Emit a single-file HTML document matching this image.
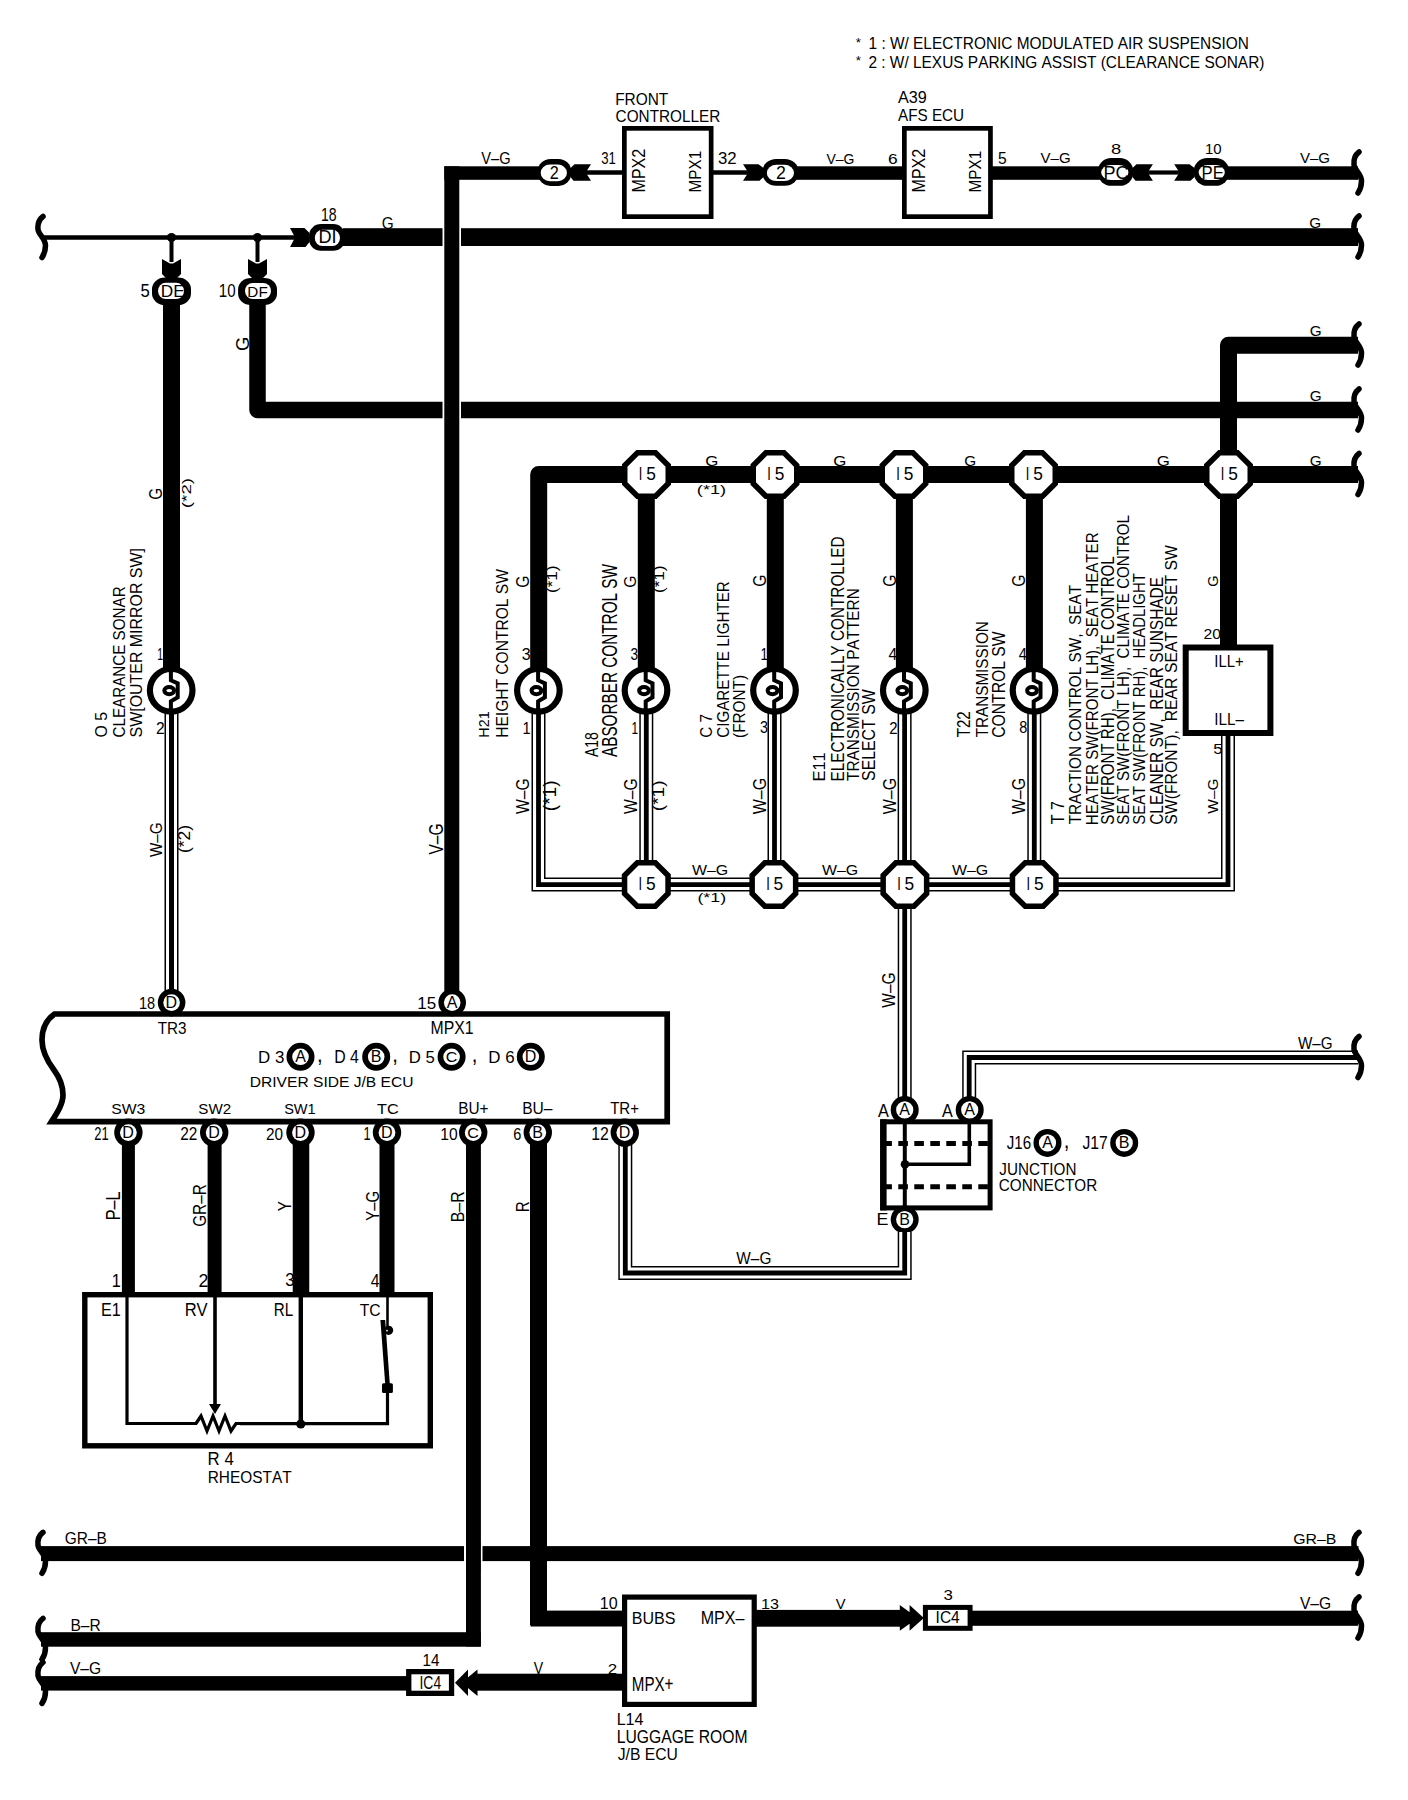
<!DOCTYPE html>
<html><head><meta charset="utf-8"><style>
html,body{margin:0;padding:0;background:#fff;}
svg{display:block;}
text{font-family:"Liberation Sans",sans-serif;fill:#000;font-kerning:none;white-space:pre;}
</style></head><body>
<svg width="1408" height="1800" viewBox="0 0 1408 1800">
<rect width="1408" height="1800" fill="#fff"/>
<text transform="translate(855.68,46.53) scale(1.1226,1)" font-size="11.96">*</text>
<text transform="translate(868.52,49.4) scale(0.9573,1)" font-size="16.13">1 : W/ ELECTRONIC MODULATED AIR SUSPENSION</text>
<text transform="translate(855.68,64.63) scale(1.1226,1)" font-size="11.96">*</text>
<text transform="translate(868.42,67.9) scale(0.9234,1)" font-size="16.72">2 : W/ LEXUS PARKING ASSIST (CLEARANCE SONAR)</text>
<rect x="444.3" y="166.3" width="100" height="13.5" fill="#000"/>
<text transform="translate(481.34,164.24) scale(0.9002,1)" font-size="16.24">V–G</text>
<rect x="537.8" y="158.9" width="33.4" height="27" rx="12.69" ry="12.15" fill="#000"/>
<rect x="540.7" y="164.6" width="26.2" height="16.6" rx="9.17" ry="8.3" fill="#fff"/>
<text transform="translate(549.78,179.1) scale(0.8861,1)" font-size="18.33">2</text>
<path d="M570.5,168 L574.5,164.2 L591,164.2 L587,170.4 L587,174.6 L591,180.8 L573.5,180.8 L570.5,177Z" fill="#000"/>
<path d="M586.5,172.5 L624,172.5" stroke="#000" stroke-width="4.6" fill="none" stroke-linejoin="miter" stroke-linecap="butt"/>
<text transform="translate(601.2,163.64) scale(0.7900,1)" font-size="16.67">31</text>
<rect x="624.35" y="128.35" width="86.8" height="88.3" fill="#fff" stroke="#000" stroke-width="4.7"/>
<text transform="translate(615.13,105.44) scale(0.9433,1)" font-size="16.38">FRONT</text>
<text transform="translate(615.62,122.03) scale(0.9046,1)" font-size="16.95">CONTROLLER</text>
<text transform="translate(645,192.52) rotate(-90) scale(0.8780,1)" font-size="18.33">MPX2</text>
<text transform="translate(701.3,192.45) rotate(-90) scale(0.9060,1)" font-size="16.86">MPX1</text>
<text transform="translate(717.96,164.24) scale(1.0342,1)" font-size="16.24">32</text>
<path d="M712,172.5 L747.5,172.5" stroke="#000" stroke-width="4.6" fill="none" stroke-linejoin="miter" stroke-linecap="butt"/>
<path d="M763.5,168 L758.5,164.2 L743,164.2 L747,170.4 L747,174.6 L743,180.8 L759.5,180.8 L763.5,177Z" fill="#000"/>
<rect x="790" y="166.3" width="113" height="13.5" fill="#000"/>
<rect x="762.6" y="159" width="35.8" height="26.8" rx="13.6" ry="12.06" fill="#000"/>
<rect x="766.8" y="164.8" width="27.2" height="16.2" rx="9.52" ry="8.1" fill="#fff"/>
<text transform="translate(776.01,178.9) scale(0.9699,1)" font-size="18.33">2</text>
<text transform="translate(826.44,163.85) scale(0.9009,1)" font-size="15.54">V–G</text>
<text transform="translate(888.12,163.85) scale(1.1159,1)" font-size="15.54">6</text>
<rect x="904.35" y="128.35" width="86.1" height="88.3" fill="#fff" stroke="#000" stroke-width="4.7"/>
<text transform="translate(897.97,102.84) scale(0.9965,1)" font-size="16.24">A39</text>
<text transform="translate(897.97,120.84) scale(0.9324,1)" font-size="16.38">AFS ECU</text>
<text transform="translate(925,192.52) rotate(-90) scale(0.8780,1)" font-size="18.33">MPX2</text>
<text transform="translate(981.3,192.45) rotate(-90) scale(0.9060,1)" font-size="16.86">MPX1</text>
<text transform="translate(997.98,163.85) scale(0.9900,1)" font-size="15.76">5</text>
<rect x="992" y="166.3" width="110" height="13.5" fill="#000"/>
<text transform="translate(1040.53,163.25) scale(0.9950,1)" font-size="15.11">V–G</text>
<rect x="1098" y="158.1" width="35.1" height="27.7" rx="13.34" ry="12.47" fill="#000"/>
<rect x="1101.2" y="165" width="27.2" height="15" rx="9.52" ry="7.5" fill="#fff"/>
<text transform="translate(1103.42,178.72) scale(0.9981,1)" font-size="18.08">PC</text>
<text transform="translate(1111,154.25) scale(1.2127,1)" font-size="15.11">8</text>
<path d="M1132.5,168 L1136.5,164.2 L1152.9,164.2 L1148.9,170.4 L1148.9,174.6 L1152.9,180.8 L1135.5,180.8 L1132.5,177Z" fill="#000"/>
<path d="M1148.5,172.5 L1178.6,172.5" stroke="#000" stroke-width="4.2" fill="none" stroke-linejoin="miter" stroke-linecap="butt"/>
<path d="M1194.5,168 L1189.5,164.2 L1174.2,164.2 L1178.2,170.4 L1178.2,174.6 L1174.2,180.8 L1190.5,180.8 L1194.5,177Z" fill="#000"/>
<rect x="1193.9" y="158.1" width="35.1" height="27.7" rx="13.34" ry="12.47" fill="#000"/>
<rect x="1198.7" y="165" width="26.1" height="15" rx="9.13" ry="7.5" fill="#fff"/>
<text transform="translate(1201.52,178.9) scale(0.9025,1)" font-size="18.6">PE</text>
<text transform="translate(1204.96,154.25) scale(0.9888,1)" font-size="15.11">10</text>
<rect x="1226" y="166.3" width="132" height="13.5" fill="#000"/>
<text transform="translate(1299.93,163.25) scale(0.9985,1)" font-size="15.11">V–G</text>
<path d="M1359,152 C1355,155 1353.5,160 1354,165 C1354.5,170 1361.5,174 1361.5,181 C1361.5,186 1360,190 1358,193" stroke="#000" stroke-width="5.5" fill="none" stroke-linecap="round"/>
<path d="M44,237.5 L294.5,237.5" stroke="#000" stroke-width="4.6" fill="none" stroke-linejoin="miter" stroke-linecap="butt"/>
<path d="M43,216.5 C39,219.5 37.5,224.5 38,229.5 C38.5,234.5 45.5,238.5 45.5,245.5 C45.5,250.5 44,254.5 42,257.5" stroke="#000" stroke-width="5.5" fill="none" stroke-linecap="round"/>
<circle cx="171.5" cy="237.5" r="4.5" fill="#000"/>
<path d="M171.5,237.5 L171.5,262" stroke="#000" stroke-width="4" fill="none" stroke-linejoin="miter" stroke-linecap="butt"/>
<path d="M167,279 L162,274 L162,259 L170,263.5 L173,263.5 L181,259 L181,274 L176,279Z" fill="#000"/>
<circle cx="257.5" cy="237.5" r="4.5" fill="#000"/>
<path d="M257.5,237.5 L257.5,262" stroke="#000" stroke-width="4" fill="none" stroke-linejoin="miter" stroke-linecap="butt"/>
<path d="M253,279 L248,274 L248,259 L256,263.5 L259,263.5 L267,259 L267,274 L262,279Z" fill="#000"/>
<path d="M171.5,300 L171.5,668" stroke="#000" stroke-width="17" fill="none" stroke-linejoin="miter" stroke-linecap="butt"/>
<path d="M257.5,300 L257.5,410 L442.5,410" stroke="#000" stroke-width="16.5" fill="none" stroke-linejoin="round" stroke-linecap="butt"/>
<path d="M461,410 L1358,410" stroke="#000" stroke-width="16.5" fill="none" stroke-linejoin="miter" stroke-linecap="butt"/>
<rect x="152" y="277.6" width="39" height="27.4" rx="12.87" ry="11.51" fill="#000"/>
<rect x="158" y="282.8" width="26" height="16.2" rx="7.8" ry="8.1" fill="#fff"/>
<text transform="translate(160.69,296.6) scale(1.0499,1)" font-size="16.42">DE</text>
<text transform="translate(140.53,296.83) scale(0.9301,1)" font-size="17.91">5</text>
<rect x="238.1" y="278" width="38.9" height="27" rx="12.84" ry="11.34" fill="#000"/>
<rect x="245" y="283" width="26" height="16" rx="7.8" ry="8" fill="#fff"/>
<text transform="translate(247.35,296.7) scale(1.0305,1)" font-size="14.83">DF</text>
<text transform="translate(218.75,296.52) scale(0.8377,1)" font-size="18.08">10</text>
<path d="M309.5,233 L304.5,228.1 L290,228.1 L294,235.4 L294,239.6 L290,246.9 L305.5,246.9 L309.5,242Z" fill="#000"/>
<rect x="309.1" y="224.1" width="35.9" height="26.7" rx="11.85" ry="11.21" fill="#000"/>
<rect x="314.8" y="229.8" width="25.2" height="16.2" rx="7.56" ry="8.1" fill="#fff"/>
<text transform="translate(318.51,243) scale(1.0415,1)" font-size="17.44">DI</text>
<text transform="translate(320.93,220.82) scale(0.7565,1)" font-size="18.64">18</text>
<rect x="343" y="228.2" width="99.5" height="17.8" fill="#000"/>
<rect x="461" y="228.2" width="897" height="17.8" fill="#000"/>
<text transform="translate(381.73,228.84) scale(0.9431,1)" font-size="16.24">G</text>
<text transform="translate(1309.23,228.46) scale(1.0738,1)" font-size="14.27">G</text>
<path d="M1359,216 C1355,219 1353.5,224 1354,229 C1354.5,234 1361.5,238 1361.5,245 C1361.5,250 1360,254 1358,257" stroke="#000" stroke-width="5.5" fill="none" stroke-linecap="round"/>
<rect x="444.3" y="166.3" width="15" height="830" fill="#000"/>
<text transform="translate(248.82,350.92) rotate(-90) scale(1.0011,1)" font-size="18.36">G</text>
<text transform="translate(162.22,499.77) rotate(-90) scale(0.8473,1)" font-size="18.08">G</text>
<text transform="translate(190.8,508.17) rotate(-90) scale(1.3920,1)" font-size="13.52">(*2)</text>
<path d="M1358,345.2 L1228.5,345.2 L1228.5,648" stroke="#000" stroke-width="17" fill="none" stroke-linejoin="round" stroke-linecap="butt"/>
<path d="M1358,474.5 L538.7,474.5 L538.7,668" stroke="#000" stroke-width="17" fill="none" stroke-linejoin="round" stroke-linecap="butt"/>
<path d="M646.3,474.5 L646.3,668" stroke="#000" stroke-width="17" fill="none" stroke-linejoin="miter" stroke-linecap="butt"/>
<path d="M775.3,474.5 L775.3,668" stroke="#000" stroke-width="17" fill="none" stroke-linejoin="miter" stroke-linecap="butt"/>
<path d="M904.4,474.5 L904.4,668" stroke="#000" stroke-width="17" fill="none" stroke-linejoin="miter" stroke-linecap="butt"/>
<path d="M1034.4,474.5 L1034.4,668" stroke="#000" stroke-width="17" fill="none" stroke-linejoin="miter" stroke-linecap="butt"/>
<text transform="translate(1309.83,336.46) scale(1.0845,1)" font-size="14.12">G</text>
<text transform="translate(1309.83,400.86) scale(1.0845,1)" font-size="14.12">G</text>
<text transform="translate(1309.83,465.86) scale(1.0845,1)" font-size="14.12">G</text>
<path d="M1359,324 C1355,327 1353.5,332 1354,337 C1354.5,342 1361.5,346 1361.5,353 C1361.5,358 1360,362 1358,365" stroke="#000" stroke-width="5.5" fill="none" stroke-linecap="round"/>
<path d="M1359,389 C1355,392 1353.5,397 1354,402 C1354.5,407 1361.5,411 1361.5,418 C1361.5,423 1360,427 1358,430" stroke="#000" stroke-width="5.5" fill="none" stroke-linecap="round"/>
<path d="M1359,453.5 C1355,456.5 1353.5,461.5 1354,466.5 C1354.5,471.5 1361.5,475.5 1361.5,482.5 C1361.5,487.5 1360,491.5 1358,494.5" stroke="#000" stroke-width="5.5" fill="none" stroke-linecap="round"/>
<path d="M637.49,452.75 L655.51,452.75 L668.25,465.49 L668.25,483.51 L655.51,496.25 L637.49,496.25 L624.75,483.51 L624.75,465.49Z" fill="#fff" stroke="#000" stroke-width="5.5" stroke-linejoin="miter"/>
<text transform="translate(638.81,480.1) scale(0.7256,1)" font-size="17.73">I</text>
<text transform="translate(646.21,480.13) scale(0.9732,1)" font-size="17.77">5</text>
<path d="M765.99,452.75 L784.01,452.75 L796.75,465.49 L796.75,483.51 L784.01,496.25 L765.99,496.25 L753.25,483.51 L753.25,465.49Z" fill="#fff" stroke="#000" stroke-width="5.5" stroke-linejoin="miter"/>
<text transform="translate(767.31,480.1) scale(0.7256,1)" font-size="17.73">I</text>
<text transform="translate(774.71,480.13) scale(0.9732,1)" font-size="17.77">5</text>
<path d="M894.99,452.75 L913.01,452.75 L925.75,465.49 L925.75,483.51 L913.01,496.25 L894.99,496.25 L882.25,483.51 L882.25,465.49Z" fill="#fff" stroke="#000" stroke-width="5.5" stroke-linejoin="miter"/>
<text transform="translate(896.31,480.1) scale(0.7256,1)" font-size="17.73">I</text>
<text transform="translate(903.71,480.13) scale(0.9732,1)" font-size="17.77">5</text>
<path d="M1024.49,452.75 L1042.51,452.75 L1055.25,465.49 L1055.25,483.51 L1042.51,496.25 L1024.49,496.25 L1011.75,483.51 L1011.75,465.49Z" fill="#fff" stroke="#000" stroke-width="5.5" stroke-linejoin="miter"/>
<text transform="translate(1025.81,480.1) scale(0.7256,1)" font-size="17.73">I</text>
<text transform="translate(1033.21,480.13) scale(0.9732,1)" font-size="17.77">5</text>
<path d="M1219.49,452.75 L1237.51,452.75 L1250.25,465.49 L1250.25,483.51 L1237.51,496.25 L1219.49,496.25 L1206.75,483.51 L1206.75,465.49Z" fill="#fff" stroke="#000" stroke-width="5.5" stroke-linejoin="miter"/>
<text transform="translate(1220.81,480.1) scale(0.7256,1)" font-size="17.73">I</text>
<text transform="translate(1228.21,480.13) scale(0.9732,1)" font-size="17.77">5</text>
<text transform="translate(705.15,465.86) scale(1.1930,1)" font-size="14.12">G</text>
<text transform="translate(833.15,465.86) scale(1.1930,1)" font-size="14.12">G</text>
<text transform="translate(964.23,465.86) scale(1.0845,1)" font-size="14.12">G</text>
<text transform="translate(1156.85,465.86) scale(1.1930,1)" font-size="14.12">G</text>
<text transform="translate(696.87,493.72) scale(1.3530,1)" font-size="13.42">(*1)</text>
<path d="M538.5,712 L538.5,884.6 L625,884.6" stroke="#000" stroke-width="14" fill="none" stroke-linejoin="miter" stroke-linecap="butt"/>
<path d="M538.5,712 L538.5,884.6 L625,884.6" stroke="#fff" stroke-width="11" fill="none" stroke-linejoin="miter" stroke-linecap="butt"/>
<path d="M538.5,712 L538.5,884.6 L625,884.6" stroke="#000" stroke-width="4.8" fill="none" stroke-linejoin="miter" stroke-linecap="butt"/>
<path d="M646.3,712 L646.3,862" stroke="#000" stroke-width="14" fill="none" stroke-linejoin="miter" stroke-linecap="butt"/>
<path d="M646.3,712 L646.3,862" stroke="#fff" stroke-width="11" fill="none" stroke-linejoin="miter" stroke-linecap="butt"/>
<path d="M646.3,712 L646.3,862" stroke="#000" stroke-width="4.8" fill="none" stroke-linejoin="miter" stroke-linecap="butt"/>
<path d="M774.5,712 L774.5,862" stroke="#000" stroke-width="14" fill="none" stroke-linejoin="miter" stroke-linecap="butt"/>
<path d="M774.5,712 L774.5,862" stroke="#fff" stroke-width="11" fill="none" stroke-linejoin="miter" stroke-linecap="butt"/>
<path d="M774.5,712 L774.5,862" stroke="#000" stroke-width="4.8" fill="none" stroke-linejoin="miter" stroke-linecap="butt"/>
<path d="M904.6,712 L904.6,862" stroke="#000" stroke-width="14" fill="none" stroke-linejoin="miter" stroke-linecap="butt"/>
<path d="M904.6,712 L904.6,862" stroke="#fff" stroke-width="11" fill="none" stroke-linejoin="miter" stroke-linecap="butt"/>
<path d="M904.6,712 L904.6,862" stroke="#000" stroke-width="4.8" fill="none" stroke-linejoin="miter" stroke-linecap="butt"/>
<path d="M1034.3,712 L1034.3,862" stroke="#000" stroke-width="14" fill="none" stroke-linejoin="miter" stroke-linecap="butt"/>
<path d="M1034.3,712 L1034.3,862" stroke="#fff" stroke-width="11" fill="none" stroke-linejoin="miter" stroke-linecap="butt"/>
<path d="M1034.3,712 L1034.3,862" stroke="#000" stroke-width="4.8" fill="none" stroke-linejoin="miter" stroke-linecap="butt"/>
<path d="M1228,734 L1228,884.6 L1055,884.6" stroke="#000" stroke-width="14" fill="none" stroke-linejoin="miter" stroke-linecap="butt"/>
<path d="M1228,734 L1228,884.6 L1055,884.6" stroke="#fff" stroke-width="11" fill="none" stroke-linejoin="miter" stroke-linecap="butt"/>
<path d="M1228,734 L1228,884.6 L1055,884.6" stroke="#000" stroke-width="4.8" fill="none" stroke-linejoin="miter" stroke-linecap="butt"/>
<path d="M660,884.6 L1020,884.6" stroke="#000" stroke-width="14" fill="none" stroke-linejoin="miter" stroke-linecap="butt"/>
<path d="M660,884.6 L1020,884.6" stroke="#fff" stroke-width="11" fill="none" stroke-linejoin="miter" stroke-linecap="butt"/>
<path d="M660,884.6 L1020,884.6" stroke="#000" stroke-width="4.8" fill="none" stroke-linejoin="miter" stroke-linecap="butt"/>
<path d="M904.7,905 L904.7,1098" stroke="#000" stroke-width="14" fill="none" stroke-linejoin="miter" stroke-linecap="butt"/>
<path d="M904.7,905 L904.7,1098" stroke="#fff" stroke-width="11" fill="none" stroke-linejoin="miter" stroke-linecap="butt"/>
<path d="M904.7,905 L904.7,1098" stroke="#000" stroke-width="4.8" fill="none" stroke-linejoin="miter" stroke-linecap="butt"/>
<path d="M637.29,862.75 L655.31,862.75 L668.05,875.49 L668.05,893.51 L655.31,906.25 L637.29,906.25 L624.55,893.51 L624.55,875.49Z" fill="#fff" stroke="#000" stroke-width="5.5" stroke-linejoin="miter"/>
<text transform="translate(638.61,890.1) scale(0.7256,1)" font-size="17.73">I</text>
<text transform="translate(646.01,890.13) scale(0.9732,1)" font-size="17.77">5</text>
<path d="M764.89,862.75 L782.91,862.75 L795.65,875.49 L795.65,893.51 L782.91,906.25 L764.89,906.25 L752.15,893.51 L752.15,875.49Z" fill="#fff" stroke="#000" stroke-width="5.5" stroke-linejoin="miter"/>
<text transform="translate(766.21,890.1) scale(0.7256,1)" font-size="17.73">I</text>
<text transform="translate(773.61,890.13) scale(0.9732,1)" font-size="17.77">5</text>
<path d="M895.89,862.75 L913.91,862.75 L926.65,875.49 L926.65,893.51 L913.91,906.25 L895.89,906.25 L883.15,893.51 L883.15,875.49Z" fill="#fff" stroke="#000" stroke-width="5.5" stroke-linejoin="miter"/>
<text transform="translate(897.21,890.1) scale(0.7256,1)" font-size="17.73">I</text>
<text transform="translate(904.61,890.13) scale(0.9732,1)" font-size="17.77">5</text>
<path d="M1025.19,862.75 L1043.21,862.75 L1055.95,875.49 L1055.95,893.51 L1043.21,906.25 L1025.19,906.25 L1012.45,893.51 L1012.45,875.49Z" fill="#fff" stroke="#000" stroke-width="5.5" stroke-linejoin="miter"/>
<text transform="translate(1026.51,890.1) scale(0.7256,1)" font-size="17.73">I</text>
<text transform="translate(1033.91,890.13) scale(0.9732,1)" font-size="17.77">5</text>
<text transform="translate(691.93,875.45) scale(1.0632,1)" font-size="14.97">W–G</text>
<text transform="translate(697.4,901.72) scale(1.3280,1)" font-size="13.42">(*1)</text>
<text transform="translate(821.93,875.45) scale(1.0632,1)" font-size="14.97">W–G</text>
<text transform="translate(951.93,875.45) scale(1.0632,1)" font-size="14.97">W–G</text>
<text transform="translate(895.02,1007.67) rotate(-90) scale(0.8578,1)" font-size="18.08">W–G</text>
<path d="M171.5,712 L171.5,996" stroke="#000" stroke-width="14" fill="none" stroke-linejoin="miter" stroke-linecap="butt"/>
<path d="M171.5,712 L171.5,996" stroke="#fff" stroke-width="11" fill="none" stroke-linejoin="miter" stroke-linecap="butt"/>
<path d="M171.5,712 L171.5,996" stroke="#000" stroke-width="5" fill="none" stroke-linejoin="miter" stroke-linecap="butt"/>
<circle cx="171.2" cy="690.3" r="21.3" fill="#fff" stroke="#000" stroke-width="6.2"/>
<path d="M170.9,671.3 L170.9,680.3 L177.7,683.3 L177.7,697.3 L170.9,701.3 L170.9,709.3" stroke="#000" stroke-width="4" fill="none" stroke-linejoin="miter"/>
<ellipse cx="169.2" cy="690.6" rx="4.9" ry="3.6" fill="#fff" stroke="#000" stroke-width="4"/>
<circle cx="538.4" cy="690.3" r="21.3" fill="#fff" stroke="#000" stroke-width="6.2"/>
<path d="M538.1,671.3 L538.1,680.3 L544.9,683.3 L544.9,697.3 L538.1,701.3 L538.1,709.3" stroke="#000" stroke-width="4" fill="none" stroke-linejoin="miter"/>
<ellipse cx="536.4" cy="690.6" rx="4.9" ry="3.6" fill="#fff" stroke="#000" stroke-width="4"/>
<circle cx="646" cy="690.3" r="21.3" fill="#fff" stroke="#000" stroke-width="6.2"/>
<path d="M645.7,671.3 L645.7,680.3 L652.5,683.3 L652.5,697.3 L645.7,701.3 L645.7,709.3" stroke="#000" stroke-width="4" fill="none" stroke-linejoin="miter"/>
<ellipse cx="644" cy="690.6" rx="4.9" ry="3.6" fill="#fff" stroke="#000" stroke-width="4"/>
<circle cx="774.5" cy="690.3" r="21.3" fill="#fff" stroke="#000" stroke-width="6.2"/>
<path d="M774.2,671.3 L774.2,680.3 L781,683.3 L781,697.3 L774.2,701.3 L774.2,709.3" stroke="#000" stroke-width="4" fill="none" stroke-linejoin="miter"/>
<ellipse cx="772.5" cy="690.6" rx="4.9" ry="3.6" fill="#fff" stroke="#000" stroke-width="4"/>
<circle cx="904.3" cy="690.3" r="21.3" fill="#fff" stroke="#000" stroke-width="6.2"/>
<path d="M904,671.3 L904,680.3 L910.8,683.3 L910.8,697.3 L904,701.3 L904,709.3" stroke="#000" stroke-width="4" fill="none" stroke-linejoin="miter"/>
<ellipse cx="902.3" cy="690.6" rx="4.9" ry="3.6" fill="#fff" stroke="#000" stroke-width="4"/>
<circle cx="1034" cy="690.3" r="21.3" fill="#fff" stroke="#000" stroke-width="6.2"/>
<path d="M1033.7,671.3 L1033.7,680.3 L1040.5,683.3 L1040.5,697.3 L1033.7,701.3 L1033.7,709.3" stroke="#000" stroke-width="4" fill="none" stroke-linejoin="miter"/>
<ellipse cx="1032" cy="690.6" rx="4.9" ry="3.6" fill="#fff" stroke="#000" stroke-width="4"/>
<rect x="1185.7" y="647.5" width="84.7" height="85.5" fill="#fff" stroke="#000" stroke-width="6"/>
<text transform="translate(1214.33,667.2) scale(0.8991,1)" font-size="16.57">ILL+</text>
<text transform="translate(1214.29,725) scale(0.9134,1)" font-size="16.72">ILL–</text>
<text transform="translate(1203.61,638.86) scale(1.0613,1)" font-size="14.83">20</text>
<text transform="translate(1218.45,586.73) rotate(-90) scale(0.9720,1)" font-size="14.97">G</text>
<text transform="translate(1213.32,753.86) scale(1.1431,1)" font-size="14.76">5</text>
<text transform="translate(1218.45,813.67) rotate(-90) scale(1.0329,1)" font-size="14.97">W–G</text>
<text transform="translate(106.83,737.45) rotate(-90) scale(0.9340,1)" font-size="16.95">O 5</text>
<text transform="translate(125.34,737.47) rotate(-90) scale(0.9357,1)" font-size="16.24">CLEARANCE SONAR</text>
<text transform="translate(141.83,737.42) rotate(-90) scale(0.9528,1)" font-size="16.74">SW[OUTER MIRROR SW]</text>
<text transform="translate(157.2,659.5) scale(0.6649,1)" font-size="15.7">1</text>
<text transform="translate(155.92,734) scale(0.9893,1)" font-size="15.75">2</text>
<text transform="translate(162.13,857.07) rotate(-90) scale(0.8796,1)" font-size="17.37">W–G</text>
<text transform="translate(190.09,853.08) rotate(-90) scale(1.0930,1)" font-size="15.99">(*2)</text>
<text transform="translate(443.01,854.57) rotate(-90) scale(0.8040,1)" font-size="19.35">V–G</text>
<text transform="translate(489,737.68) rotate(-90) scale(1.0042,1)" font-size="14.32">H21</text>
<text transform="translate(508.24,737.78) rotate(-90) scale(0.9512,1)" font-size="16.38">HEIGHT CONTROL SW</text>
<text transform="translate(528.82,587.79) rotate(-90) scale(0.8593,1)" font-size="18.36">G</text>
<text transform="translate(556.66,593.06) rotate(-90) scale(1.2479,1)" font-size="13.74">(*1)</text>
<text transform="translate(521.79,659.64) scale(0.9869,1)" font-size="16.24">3</text>
<text transform="translate(522.59,734) scale(0.8666,1)" font-size="16.86">1</text>
<text transform="translate(528.82,814.07) rotate(-90) scale(0.8521,1)" font-size="18.36">W–G</text>
<text transform="translate(556.38,811.18) rotate(-90) scale(1.0914,1)" font-size="17.5">(*1)</text>
<text transform="translate(597.82,757.03) rotate(-90) scale(0.7633,1)" font-size="18.36">A18</text>
<text transform="translate(616.79,757.03) rotate(-90) scale(0.7084,1)" font-size="21.61">ABSORBER CONTROL SW</text>
<text transform="translate(635.84,587.79) rotate(-90) scale(0.9885,1)" font-size="15.96">G</text>
<text transform="translate(664.11,593.06) rotate(-90) scale(1.2287,1)" font-size="13.95">(*1)</text>
<text transform="translate(630.48,659.64) scale(0.8440,1)" font-size="16.24">3</text>
<text transform="translate(631.5,734) scale(0.7016,1)" font-size="16.86">1</text>
<text transform="translate(636.82,814.07) rotate(-90) scale(0.8521,1)" font-size="18.36">W–G</text>
<text transform="translate(663.76,811.18) rotate(-90) scale(1.1477,1)" font-size="16.64">(*1)</text>
<text transform="translate(711.83,737.77) rotate(-90) scale(0.8854,1)" font-size="17.23">C 7</text>
<text transform="translate(728.93,737.77) rotate(-90) scale(0.8798,1)" font-size="17.23">CIGARETTE LIGHTER</text>
<text transform="translate(745,737.95) rotate(-90) scale(0.8862,1)" font-size="17.3">(FRONT)</text>
<text transform="translate(765.83,586.79) rotate(-90) scale(0.9008,1)" font-size="17.51">G</text>
<text transform="translate(760.59,659.8) scale(0.7978,1)" font-size="16.57">1</text>
<text transform="translate(759.95,733.44) scale(0.8986,1)" font-size="15.96">3</text>
<text transform="translate(765.83,814.37) rotate(-90) scale(0.9167,1)" font-size="17.51">W–G</text>
<text transform="translate(825.2,781.55) rotate(-90) scale(0.9958,1)" font-size="16.57">E11</text>
<text transform="translate(844.2,781.46) rotate(-90) scale(0.8784,1)" font-size="17.44">ELECTRONICALLY CONTROLLED</text>
<text transform="translate(859,780.95) rotate(-90) scale(0.8957,1)" font-size="17.15">TRANSMISSION PATTERN</text>
<text transform="translate(875.2,780.92) rotate(-90) scale(0.9095,1)" font-size="17.44">SELECT SW</text>
<text transform="translate(895.52,586.79) rotate(-90) scale(0.8796,1)" font-size="17.94">G</text>
<text transform="translate(888.54,659.8) scale(0.9461,1)" font-size="16.57">4</text>
<text transform="translate(889.25,733.6) scale(0.9223,1)" font-size="16.18">2</text>
<text transform="translate(895.52,814.37) rotate(-90) scale(0.8950,1)" font-size="17.94">W–G</text>
<text transform="translate(969.5,737.34) rotate(-90) scale(0.8462,1)" font-size="17.9">T22</text>
<text transform="translate(987.54,737.34) rotate(-90) scale(0.9572,1)" font-size="15.96">TRANSMISSION</text>
<text transform="translate(1004.63,737.8) rotate(-90) scale(0.8896,1)" font-size="17.66">CONTROL SW</text>
<text transform="translate(1025.03,586.79) rotate(-90) scale(0.8936,1)" font-size="17.66">G</text>
<text transform="translate(1018.66,659.8) scale(0.8863,1)" font-size="16.57">4</text>
<text transform="translate(1019.37,733.44) scale(0.9080,1)" font-size="15.96">8</text>
<text transform="translate(1025.03,814.37) rotate(-90) scale(0.9093,1)" font-size="17.66">W–G</text>
<text transform="translate(1063.6,824.36) rotate(-90) scale(0.8969,1)" font-size="17.88">T 7</text>
<text transform="translate(1081,824.34) rotate(-90) scale(0.9516,1)" font-size="16.13">TRACTION CONTROL SW,  SEAT</text>
<text transform="translate(1097.6,825.24) rotate(-90) scale(0.8960,1)" font-size="16.86">HEATER SW(FRONT LH),  SEAT HEATER</text>
<text transform="translate(1113.7,824.69) rotate(-90) scale(0.8182,1)" font-size="18.46">SW(FRONT RH),  CLIMATE CONTROL</text>
<text transform="translate(1128.8,824.69) rotate(-90) scale(0.9212,1)" font-size="16.42">SEAT SW(FRONT LH),  CLIMATE CONTROL</text>
<text transform="translate(1145.2,824.68) rotate(-90) scale(0.8984,1)" font-size="16.57">SEAT SW(FRONT RH),  HEADLIGHT</text>
<text transform="translate(1162.8,824.78) rotate(-90) scale(0.8047,1)" font-size="19.19">CLEANER SW,  REAR SUNSHADE</text>
<text transform="translate(1177,824.72) rotate(-90) scale(0.9527,1)" font-size="16.57">SW(FRONT),  REAR SEAT RESET SW</text>
<path d="M969.2,1098 L969.2,1057.5 L1358,1057.5" stroke="#000" stroke-width="14" fill="none" stroke-linejoin="miter" stroke-linecap="butt"/>
<path d="M969.2,1098 L969.2,1057.5 L1358,1057.5" stroke="#fff" stroke-width="11" fill="none" stroke-linejoin="miter" stroke-linecap="butt"/>
<path d="M969.2,1098 L969.2,1057.5 L1358,1057.5" stroke="#000" stroke-width="4.8" fill="none" stroke-linejoin="miter" stroke-linecap="butt"/>
<text transform="translate(1297.93,1048.54) scale(0.9220,1)" font-size="16.53">W–G</text>
<path d="M1359,1036.5 C1355,1039.5 1353.5,1044.5 1354,1049.5 C1354.5,1054.5 1361.5,1058.5 1361.5,1065.5 C1361.5,1070.5 1360,1074.5 1358,1077.5" stroke="#000" stroke-width="5.5" fill="none" stroke-linecap="round"/>
<rect x="882.7" y="1121.8" width="107.4" height="86.1" fill="#fff" stroke="#000" stroke-width="5"/>
<rect x="880.2" y="1119.3" width="6.4" height="91.1" fill="#000"/>
<path d="M904.8,1120 L904.8,1208" stroke="#000" stroke-width="4" fill="none" stroke-linejoin="miter" stroke-linecap="butt"/>
<path d="M969.3,1120 L969.3,1164.2 L904.8,1164.2" stroke="#000" stroke-width="3.6" fill="none" stroke-linejoin="miter" stroke-linecap="butt"/>
<circle cx="905" cy="1164.2" r="4.3" fill="#000"/>
<line x1="882.3" y1="1143.5" x2="990" y2="1143.5" stroke="#000" stroke-width="5" stroke-dasharray="9.6 6.4"/>
<line x1="882.3" y1="1186.7" x2="990" y2="1186.7" stroke="#000" stroke-width="5" stroke-dasharray="9.6 6.4"/>
<circle cx="904.7" cy="1109.9" r="14" fill="#000"/>
<circle cx="904.7" cy="1109.9" r="8.6" fill="#fff"/>
<text transform="translate(899.36,1115.4) scale(1.0000,1)" font-size="16">A</text>
<circle cx="969.7" cy="1109.9" r="14" fill="#000"/>
<circle cx="969.7" cy="1109.9" r="8.6" fill="#fff"/>
<text transform="translate(964.36,1115.4) scale(1.0000,1)" font-size="16">A</text>
<circle cx="904.7" cy="1219.6" r="14" fill="#000"/>
<circle cx="904.7" cy="1219.6" r="8.6" fill="#fff"/>
<text transform="translate(899.13,1225.1) scale(1.0000,1)" font-size="16">B</text>
<text transform="translate(877.97,1117) scale(0.9037,1)" font-size="18.02">A</text>
<text transform="translate(941.97,1117) scale(0.8953,1)" font-size="18.02">A</text>
<text transform="translate(876.53,1225) scale(1.1194,1)" font-size="15.99">E</text>
<text transform="translate(1006.76,1149.12) scale(0.8371,1)" font-size="18.08">J16</text>
<circle cx="1047.5" cy="1142.9" r="14" fill="#000"/>
<circle cx="1047.5" cy="1142.9" r="8.6" fill="#fff"/>
<text transform="translate(1042.16,1148.4) scale(1.0000,1)" font-size="16">A</text>
<text transform="translate(1063.67,1148.28) scale(0.9572,1)" font-size="21.29">,</text>
<text transform="translate(1082.45,1149.12) scale(0.8566,1)" font-size="18.34">J17</text>
<circle cx="1124.2" cy="1142.9" r="14" fill="#000"/>
<circle cx="1124.2" cy="1142.9" r="8.6" fill="#fff"/>
<text transform="translate(1118.63,1148.4) scale(1.0000,1)" font-size="16">B</text>
<text transform="translate(999.36,1174.83) scale(0.8996,1)" font-size="16.95">JUNCTION</text>
<text transform="translate(998.82,1190.83) scale(0.9007,1)" font-size="16.95">CONNECTOR</text>
<path d="M670,1014 L54.5,1014 C46,1020 42,1030 42,1040 C42,1052 48,1062 54,1070 C60,1078 63,1086 63,1095 C63,1104 57,1113 51.5,1121.6 L667.2,1121.6 L667.2,1011.2" fill="#fff" stroke="#000" stroke-width="5.7" stroke-linejoin="miter"/>
<circle cx="171.6" cy="1002.6" r="13.8" fill="#000"/>
<circle cx="171.6" cy="1002.6" r="8.3" fill="#fff"/>
<text transform="translate(165.55,1008.1) scale(1.0000,1)" font-size="16">D</text>
<circle cx="452.2" cy="1002.6" r="13.8" fill="#000"/>
<circle cx="452.2" cy="1002.6" r="8.3" fill="#fff"/>
<text transform="translate(446.86,1008.1) scale(1.0000,1)" font-size="16">A</text>
<text transform="translate(138.9,1008.83) scale(0.8559,1)" font-size="16.95">18</text>
<text transform="translate(417.21,1008.83) scale(0.9885,1)" font-size="17.2">15</text>
<text transform="translate(157.66,1034.13) scale(0.8779,1)" font-size="17.37">TR3</text>
<text transform="translate(430.5,1034) scale(0.9068,1)" font-size="17.44">MPX1</text>
<text transform="translate(258.01,1062.83) scale(0.9983,1)" font-size="16.95">D 3</text>
<circle cx="300.5" cy="1056.8" r="14" fill="#000"/>
<circle cx="300.5" cy="1056.8" r="8.3" fill="#fff"/>
<text transform="translate(295.16,1062.3) scale(1.0000,1)" font-size="16">A</text>
<text transform="translate(316.97,1062.28) scale(0.9572,1)" font-size="21.29">,</text>
<text transform="translate(334.2,1063) scale(0.9087,1)" font-size="17.44">D 4</text>
<circle cx="376.2" cy="1056.8" r="14" fill="#000"/>
<circle cx="376.2" cy="1056.8" r="8.3" fill="#fff"/>
<text transform="translate(370.63,1062.3) scale(1.0000,1)" font-size="16">B</text>
<text transform="translate(392.17,1062.28) scale(0.9572,1)" font-size="21.29">,</text>
<text transform="translate(408.63,1062.83) scale(0.9744,1)" font-size="17.2">D 5</text>
<circle cx="451.6" cy="1056.8" r="14" fill="#000"/>
<circle cx="451.6" cy="1056.8" r="8.3" fill="#fff"/>
<text transform="translate(445.72,1062.15) scale(1.0291,1)" font-size="15.55">C</text>
<text transform="translate(471.87,1062.28) scale(0.9572,1)" font-size="21.29">,</text>
<text transform="translate(488.31,1062.83) scale(0.9983,1)" font-size="16.95">D 6</text>
<circle cx="530.8" cy="1056.8" r="14" fill="#000"/>
<circle cx="530.8" cy="1056.8" r="8.3" fill="#fff"/>
<text transform="translate(524.75,1062.3) scale(1.0000,1)" font-size="16">D</text>
<text transform="translate(249.72,1087.36) scale(1.0514,1)" font-size="14.84">DRIVER SIDE J/B ECU</text>
<text transform="translate(111.29,1113.85) scale(1.0130,1)" font-size="15.54">SW3</text>
<text transform="translate(198.31,1113.85) scale(0.9757,1)" font-size="15.54">SW2</text>
<text transform="translate(284.14,1113.85) scale(0.9378,1)" font-size="15.54">SW1</text>
<text transform="translate(377.04,1113.85) scale(1.0420,1)" font-size="15.54">TC</text>
<text transform="translate(458.24,1113.85) scale(0.9747,1)" font-size="15.76">BU+</text>
<text transform="translate(522.22,1113.85) scale(0.9875,1)" font-size="15.76">BU–</text>
<text transform="translate(610.16,1114) scale(0.9389,1)" font-size="15.99">TR+</text>
<path d="M128.4,1140 L128.4,1294" stroke="#000" stroke-width="13" fill="none" stroke-linejoin="miter" stroke-linecap="butt"/>
<path d="M214.6,1140 L214.6,1294" stroke="#000" stroke-width="14" fill="none" stroke-linejoin="miter" stroke-linecap="butt"/>
<path d="M301,1140 L301,1294" stroke="#000" stroke-width="16.5" fill="none" stroke-linejoin="miter" stroke-linecap="butt"/>
<path d="M387,1140 L387,1294" stroke="#000" stroke-width="15" fill="none" stroke-linejoin="miter" stroke-linecap="butt"/>
<rect x="466" y="1135" width="14.9" height="511.5" fill="#000"/>
<rect x="41" y="1632.2" width="439.9" height="14.5" fill="#000"/>
<rect x="530" y="1135" width="17" height="490" fill="#000"/>
<rect x="530.5" y="1610.6" width="92" height="15.9" fill="#000"/>
<path d="M625.3,1140 L625.3,1273 L904.7,1273 L904.7,1232" stroke="#000" stroke-width="14" fill="none" stroke-linejoin="miter" stroke-linecap="butt"/>
<path d="M625.3,1140 L625.3,1273 L904.7,1273 L904.7,1232" stroke="#fff" stroke-width="11" fill="none" stroke-linejoin="miter" stroke-linecap="butt"/>
<path d="M625.3,1140 L625.3,1273 L904.7,1273 L904.7,1232" stroke="#000" stroke-width="4.8" fill="none" stroke-linejoin="miter" stroke-linecap="butt"/>
<text transform="translate(736.33,1264.23) scale(0.8995,1)" font-size="17.09">W–G</text>
<circle cx="128.4" cy="1132.6" r="14.2" fill="#000"/>
<circle cx="128.4" cy="1132.6" r="8.4" fill="#fff"/>
<text transform="translate(122.35,1138.1) scale(1.0000,1)" font-size="16">D</text>
<circle cx="214.2" cy="1132.6" r="14.2" fill="#000"/>
<circle cx="214.2" cy="1132.6" r="8.4" fill="#fff"/>
<text transform="translate(208.15,1138.1) scale(1.0000,1)" font-size="16">D</text>
<circle cx="300.5" cy="1132.6" r="14.2" fill="#000"/>
<circle cx="300.5" cy="1132.6" r="8.4" fill="#fff"/>
<text transform="translate(294.45,1138.1) scale(1.0000,1)" font-size="16">D</text>
<circle cx="387" cy="1132.6" r="14.2" fill="#000"/>
<circle cx="387" cy="1132.6" r="8.4" fill="#fff"/>
<text transform="translate(380.95,1138.1) scale(1.0000,1)" font-size="16">D</text>
<circle cx="473.2" cy="1132.6" r="14.2" fill="#000"/>
<circle cx="473.2" cy="1132.6" r="8.4" fill="#fff"/>
<text transform="translate(467.32,1137.95) scale(1.0291,1)" font-size="15.55">C</text>
<circle cx="537.8" cy="1132.6" r="14.2" fill="#000"/>
<circle cx="537.8" cy="1132.6" r="8.4" fill="#fff"/>
<text transform="translate(532.23,1138.1) scale(1.0000,1)" font-size="16">B</text>
<circle cx="624.8" cy="1132.6" r="14.2" fill="#000"/>
<circle cx="624.8" cy="1132.6" r="8.4" fill="#fff"/>
<text transform="translate(618.75,1138.1) scale(1.0000,1)" font-size="16">D</text>
<text transform="translate(94.35,1140) scale(0.7400,1)" font-size="17.47">21</text>
<text transform="translate(180.22,1140) scale(0.8825,1)" font-size="17.47">22</text>
<text transform="translate(265.93,1139.83) scale(0.8907,1)" font-size="17.23">20</text>
<text transform="translate(363.53,1140) scale(0.7194,1)" font-size="17.73">1</text>
<text transform="translate(440.21,1139.83) scale(0.9080,1)" font-size="17.23">10</text>
<text transform="translate(513.16,1139.83) scale(0.8427,1)" font-size="17.23">6</text>
<text transform="translate(591.19,1140) scale(0.9057,1)" font-size="17.47">12</text>
<text transform="translate(120,1220.33) rotate(-90) scale(0.8208,1)" font-size="19.77">P–L</text>
<text transform="translate(206.11,1226.77) rotate(-90) scale(0.8018,1)" font-size="19.07">GR–R</text>
<text transform="translate(291,1211.34) rotate(-90) scale(0.8742,1)" font-size="17.44">Y</text>
<text transform="translate(378.81,1220.73) rotate(-90) scale(0.7821,1)" font-size="19.07">Y–G</text>
<text transform="translate(464,1222.31) rotate(-90) scale(0.9075,1)" font-size="17.59">B–R</text>
<text transform="translate(529.1,1212.24) rotate(-90) scale(0.7900,1)" font-size="19.19">R</text>
<rect x="84.8" y="1294.7" width="345.5" height="151.1" fill="#fff" stroke="#000" stroke-width="5.4"/>
<text transform="translate(111.76,1286.5) scale(0.8936,1)" font-size="18.17">1</text>
<text transform="translate(198.61,1286.5) scale(0.9932,1)" font-size="17.9">2</text>
<text transform="translate(285.36,1286.33) scale(0.9557,1)" font-size="17.66">3</text>
<text transform="translate(370.64,1286.5) scale(0.8738,1)" font-size="18.17">4</text>
<text transform="translate(101.08,1316) scale(0.9238,1)" font-size="17.44">E1</text>
<text transform="translate(184.64,1316) scale(0.9506,1)" font-size="17.44">RV</text>
<text transform="translate(273.75,1316) scale(0.8725,1)" font-size="17.44">RL</text>
<text transform="translate(359.65,1315.83) scale(0.9273,1)" font-size="16.95">TC</text>
<path d="M127,1295 L127,1423.5 L197,1423.5" stroke="#000" stroke-width="3.2" fill="none" stroke-linejoin="miter" stroke-linecap="butt"/>
<path d="M240,1423.7 L387.5,1423.7 L387.5,1390" stroke="#000" stroke-width="3.2" fill="none" stroke-linejoin="miter" stroke-linecap="butt"/>
<path d="M215,1295 L215,1408" stroke="#000" stroke-width="3.6" fill="none" stroke-linejoin="miter" stroke-linecap="butt"/>
<path d="M209,1404 L221,1404 L215,1414 Z" fill="#000"/>
<path d="M196,1423.5 L201,1416 L207,1431 L213,1416 L219,1431 L225,1416 L231,1431 L236,1423.5 L241,1423.5" stroke="#000" stroke-width="3.2" fill="none" stroke-linejoin="miter"/>
<path d="M300.8,1295 L300.8,1423.5" stroke="#000" stroke-width="4.4" fill="none" stroke-linejoin="miter" stroke-linecap="butt"/>
<circle cx="300.8" cy="1424" r="4.6" fill="#000"/>
<path d="M387.5,1295 L387.5,1327" stroke="#000" stroke-width="2.6" fill="none" stroke-linejoin="miter" stroke-linecap="butt"/>
<circle cx="388.6" cy="1330.3" r="4.6" fill="#000"/>
<circle cx="387" cy="1330.6" r="0.9" fill="#fff"/>
<path d="M380.4,1320 L385.2,1320 L389.8,1384 L385.2,1384 Z" fill="#000"/>
<rect x="382" y="1383.3" width="10.9" height="9.7" rx="1.5" fill="#000"/>
<text transform="translate(207.62,1464.7) scale(0.9484,1)" font-size="17.73">R 4</text>
<text transform="translate(207.74,1483.43) scale(0.8944,1)" font-size="17.23">RHEOSTAT</text>
<rect x="41" y="1546.1" width="423" height="15" fill="#000"/>
<rect x="482.5" y="1546.1" width="876" height="15" fill="#000"/>
<rect x="466" y="1540" width="14.3" height="30" fill="#000"/>
<path d="M43,1532.3 C39,1535.3 37.5,1540.3 38,1545.3 C38.5,1550.3 45.5,1554.3 45.5,1561.3 C45.5,1566.3 44,1570.3 42,1573.3" stroke="#000" stroke-width="5.5" fill="none" stroke-linecap="round"/>
<path d="M1359,1532.3 C1355,1535.3 1353.5,1540.3 1354,1545.3 C1354.5,1550.3 1361.5,1554.3 1361.5,1561.3 C1361.5,1566.3 1360,1570.3 1358,1573.3" stroke="#000" stroke-width="5.5" fill="none" stroke-linecap="round"/>
<text transform="translate(64.82,1544.24) scale(0.9434,1)" font-size="16.38">GR–B</text>
<text transform="translate(1293.2,1543.85) scale(1.0219,1)" font-size="15.54">GR–B</text>
<path d="M43,1618.4 C39,1621.4 37.5,1626.4 38,1631.4 C38.5,1636.4 45.5,1640.4 45.5,1647.4 C45.5,1652.4 44,1656.4 42,1659.4" stroke="#000" stroke-width="5.5" fill="none" stroke-linecap="round"/>
<text transform="translate(70.42,1631.1) scale(0.9654,1)" font-size="16.13">B–R</text>
<rect x="41" y="1676.1" width="366" height="14.5" fill="#000"/>
<path d="M43,1662.4 C39,1665.4 37.5,1670.4 38,1675.4 C38.5,1680.4 45.5,1684.4 45.5,1691.4 C45.5,1696.4 44,1700.4 42,1703.4" stroke="#000" stroke-width="5.5" fill="none" stroke-linecap="round"/>
<text transform="translate(69.93,1673.74) scale(0.9446,1)" font-size="16.53">V–G</text>
<rect x="408.75" y="1671.65" width="42.8" height="21.7" fill="#fff" stroke="#000" stroke-width="5.3"/>
<text transform="translate(419.52,1688.83) scale(0.7920,1)" font-size="17.51">IC4</text>
<text transform="translate(422.54,1666) scale(0.9013,1)" font-size="16.86">14</text>
<path d="M455,1682.8 L468,1669.6 L468,1696 Z M461.5,1682.8 L477.5,1669.6 L477.5,1696 Z" fill="#000"/>
<rect x="474" y="1673.7" width="150" height="17" fill="#000"/>
<text transform="translate(533.84,1673.7) scale(0.8308,1)" font-size="17.01">V</text>
<rect x="624.6" y="1597.1" width="129.6" height="107.3" fill="#fff" stroke="#000" stroke-width="5.2"/>
<text transform="translate(599.78,1609.24) scale(0.9547,1)" font-size="16.81">10</text>
<text transform="translate(631.68,1623.83) scale(0.9480,1)" font-size="16.95">BUBS</text>
<text transform="translate(700.69,1624) scale(0.9184,1)" font-size="17.44">MPX–</text>
<text transform="translate(760.97,1608.85) scale(1.0670,1)" font-size="15.11">13</text>
<text transform="translate(607.65,1673.6) scale(1.1030,1)" font-size="15.32">2</text>
<text transform="translate(631.76,1691) scale(0.7447,1)" font-size="20.35">MPX+</text>
<text transform="translate(616.68,1724.7) scale(0.9282,1)" font-size="17.3">L14</text>
<text transform="translate(616.71,1743.22) scale(0.8754,1)" font-size="17.94">LUGGAGE ROOM</text>
<text transform="translate(617.75,1760.34) scale(0.9683,1)" font-size="16.2">J/B ECU</text>
<rect x="755" y="1609.9" width="146" height="16.8" fill="#000"/>
<text transform="translate(835.84,1609) scale(0.9476,1)" font-size="15.55">V</text>
<path d="M917.6,1618 L899.8,1604.9 L899.8,1630.8 Z M923.8,1618 L909.6,1604.9 L909.6,1630.8 Z" fill="#000"/>
<rect x="925.4" y="1607.4" width="44.7" height="20.9" fill="#fff" stroke="#000" stroke-width="5"/>
<text transform="translate(935.57,1623.04) scale(0.9488,1)" font-size="16.38">IC4</text>
<text transform="translate(943.56,1599.85) scale(1.1270,1)" font-size="14.97">3</text>
<rect x="971" y="1610.7" width="387" height="15.1" fill="#000"/>
<text transform="translate(1299.93,1608.55) scale(0.9868,1)" font-size="15.82">V–G</text>
<path d="M1359,1597 C1355,1600 1353.5,1605 1354,1610 C1354.5,1615 1361.5,1619 1361.5,1626 C1361.5,1631 1360,1635 1358,1638" stroke="#000" stroke-width="5.5" fill="none" stroke-linecap="round"/>
</svg></body></html>
